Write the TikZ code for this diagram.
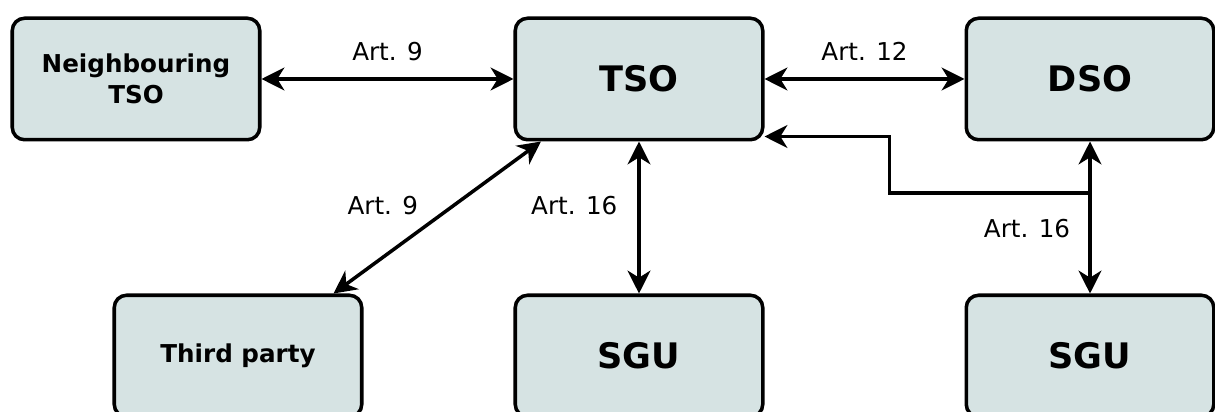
\documentclass[tikz,border=0pt]{standalone}
\usepackage{fontspec}
\setmainfont{DejaVu Sans}
\definecolor{boxfill}{RGB}{214, 227, 227}
\usetikzlibrary{arrows.meta, positioning, calc}

\begin{document}
\begin{tikzpicture}[
  actbox/.style={draw, line width=2pt, rounded corners=7pt, fill=boxfill, minimum width=4.95cm, minimum height=2.43cm, align=center, font=\bfseries\fontsize{14}{18}\selectfont},
  bigbox/.style={actbox, font=\bfseries\fontsize{20}{24}\selectfont},
  conn/.style={line width=2pt, {Stealth[length=13pt, width=13pt, inset=4pt]}-{Stealth[length=13pt, width=13pt, inset=4pt]}},
  artlbl/.style={font=\fontsize{14}{16}\selectfont}
]
  \clip (0,0) rectangle (24.3,-8.24);
  \useasboundingbox (0,0) rectangle (24.3,-8.24);

  % Actors
  \node[actbox] (nb) at (2.72, -1.58) {Neighbouring\\TSO};
  \node[bigbox] (tso) at (12.78, -1.58) {TSO};
  \node[bigbox] (dso) at (21.8, -1.58) {DSO};

  \node[actbox] (third) at (4.76, -7.12) {Third party};
  \node[bigbox] (sgua) at (12.78, -7.12) {SGU};
  \node[bigbox] (sgub) at (21.8, -7.12) {SGU};

  % Articles
  \draw[conn] (nb) -- node[artlbl, midway, above=6pt] {Art. 9} (tso);
  \draw[conn] (tso) -- node[artlbl, midway, above=6pt] {Art. 12} (dso);
  \draw[conn] ($(tso.south west)+(0.55,0)$) -- node[artlbl, pos=0.42, left=16pt] {Art. 9} ($(third.north east)+(-0.6,0)$);
  \draw[conn] (tso) -- node[artlbl, pos=0.42, left=8pt] {Art. 16} (sgua);
  \draw[conn] (dso) -- node[artlbl, pos=0.57, left=7pt] {Art. 16} (sgub);

  % DSO side to TSO
  \coordinate (jn) at ($(dso.south)!0.34!(sgub.north)$);
  \coordinate (tsoin) at ($(tso.south east)+(0,0.1)$);
  \draw[line width=2pt, -{Stealth[length=13pt, width=13pt, inset=4pt]}] (jn) -| ($(tsoin)+(2.5,0)$) -- (tsoin);
\end{tikzpicture}
\end{document}
